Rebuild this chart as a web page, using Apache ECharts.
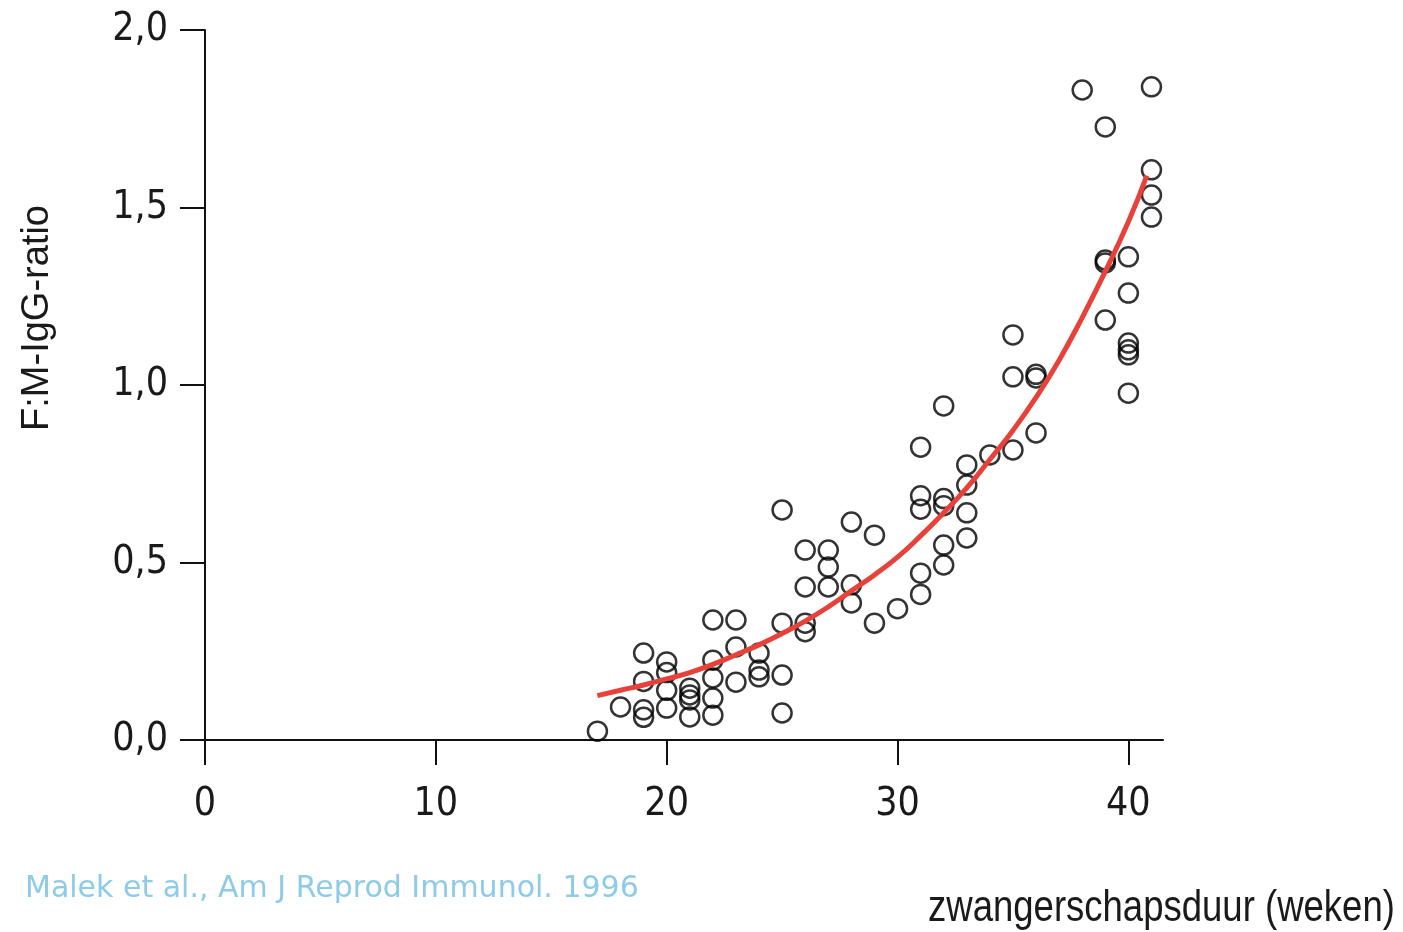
<!DOCTYPE html>
<html>
<head>
<meta charset="utf-8">
<script src="https://cdn.jsdelivr.net/npm/echarts@6/dist/echarts.min.js"></script>
<style>
  html, body { margin: 0; padding: 0; background: #fff; }
  #chart { width: 1403px; height: 932px; }
</style>
</head>
<body>
<div id="chart"></div>
<script>
// meetpunten: zwangerschapsduur (weken) en F:M-IgG-ratio
const weekX = [
  17, 18,
  19, 19, 19, 19,
  20, 20, 20, 20,
  21, 21, 21, 21,
  22, 22, 22, 22, 22,
  23, 23, 23,
  24, 24, 24,
  25, 25, 25, 25,
  26, 26, 26, 26,
  27, 27, 27,
  28, 28, 28,
  29, 29,
  30,
  31, 31, 31, 31, 31,
  32, 32, 32, 32, 32,
  33, 33, 33, 33,
  34,
  35, 35, 35,
  36, 36, 36,
  38,
  39, 39, 39, 39,
  40, 40, 40, 40, 40, 40,
  41, 41, 41, 41
];
const ratioY = [
  0.025, 0.093,
  0.245, 0.165, 0.085, 0.064,
  0.22, 0.19, 0.14, 0.09,
  0.146, 0.127, 0.113, 0.065,
  0.338, 0.225, 0.175, 0.118, 0.07,
  0.338, 0.262, 0.163,
  0.245, 0.197, 0.178,
  0.648, 0.329, 0.183, 0.076,
  0.535, 0.431, 0.329, 0.305,
  0.535, 0.487, 0.431,
  0.614, 0.437, 0.386,
  0.577, 0.329,
  0.37,
  0.825, 0.688, 0.65, 0.47, 0.41,
  0.941, 0.68, 0.66, 0.549, 0.493,
  0.775, 0.718, 0.64, 0.569,
  0.803,
  1.141, 1.023, 0.817,
  1.03, 1.02, 0.865,
  1.831,
  1.727, 1.352, 1.344, 1.183,
  1.361, 1.259, 1.118, 1.099, 1.085, 0.977,
  1.84, 1.606, 1.535, 1.473
];

const curveX = [17, 18, 19, 20, 21, 22, 23, 24, 25, 26, 27, 28, 29, 30, 31, 32, 33, 34, 35, 36, 37, 38, 39, 40, 40.8];
const curveY = [0.125, 0.14, 0.155, 0.172, 0.19, 0.213, 0.24, 0.268, 0.3, 0.335, 0.375, 0.42, 0.465, 0.515, 0.575, 0.64, 0.71, 0.79, 0.872, 0.965, 1.07, 1.19, 1.32, 1.46, 1.59];

const xTicks = [0, 10, 20, 30, 40];

const points = weekX.map((x, i) => [x, ratioY[i]]);
const curve = curveX.map((x, i) => [x, curveY[i]]);

const labelFont = "'DejaVu Sans Condensed', 'Liberation Sans', sans-serif";

const chartInstance = echarts.init(document.getElementById('chart'));
const initOption = {
  animation: false,
  backgroundColor: '#fff',
  grid: {
    left: 205,
    right: 240,
    top: 30,
    bottom: 192,
  },
  xAxis: {
    type: 'value',
    min: 0,
    max: 41.5,
    interval: 10,
    splitLine: { show: false },
    axisLine: { onZero: false, lineStyle: { color: '#111', width: 2 } },
    axisTick: {
      customValues: xTicks,
      length: 25,
      lineStyle: { color: '#111', width: 2 },
    },
    axisLabel: {
      customValues: xTicks,
      margin: 45,
      color: '#1a1a1a',
      fontFamily: labelFont,
      fontSize: 39,
    },
  },
  yAxis: {
    type: 'value',
    min: 0,
    max: 2,
    interval: 0.5,
    splitLine: { show: false },
    axisLine: { show: true, onZero: false, lineStyle: { color: '#111', width: 2 } },
    axisTick: {
      show: true,
      length: 25,
      lineStyle: { color: '#111', width: 2 },
    },
    axisLabel: {
      margin: 37,
      color: '#1a1a1a',
      fontFamily: labelFont,
      fontSize: 39,
      formatter: (v) => v.toFixed(1).replace('.', ','),
    },
  },
  graphic: [
    {
      type: 'text',
      x: 38,
      y: 318,
      rotation: Math.PI / 2,
      style: {
        text: 'F:M-IgG-ratio',
        fill: '#1a1a1a',
        font: "38px 'Liberation Sans', sans-serif",
        align: 'center',
        verticalAlign: 'middle',
      },
    },
    {
      type: 'text',
      x: 928,
      y: 887,
      scaleX: 0.83,
      style: {
        text: 'zwangerschapsduur (weken)',
        fill: '#1a1a1a',
        font: "44px 'Liberation Sans', sans-serif",
        align: 'left',
        verticalAlign: 'top',
      },
    },
    {
      type: 'text',
      left: 25,
      top: 874,
      style: {
        text: 'Malek et al., Am J Reprod Immunol. 1996',
        fill: '#8ecbe8',
        font: "30px 'DejaVu Sans', sans-serif",
      },
    },
  ],
  series: [
    {
      name: 'meting',
      type: 'scatter',
      symbol: 'circle',
      symbolSize: 19,
      itemStyle: {
        color: 'rgba(0,0,0,0)',
        borderColor: '#000',
        borderWidth: 2.5,
      },
      data: points,
      z: 2,
    },
    {
      name: 'trend',
      type: 'line',
      smooth: true,
      symbol: 'none',
      lineStyle: { color: '#e8413a', width: 5 },
      data: curve,
      z: 3,
    },
  ],
};
chartInstance.setOption(initOption);
</script>
</body>
</html>
